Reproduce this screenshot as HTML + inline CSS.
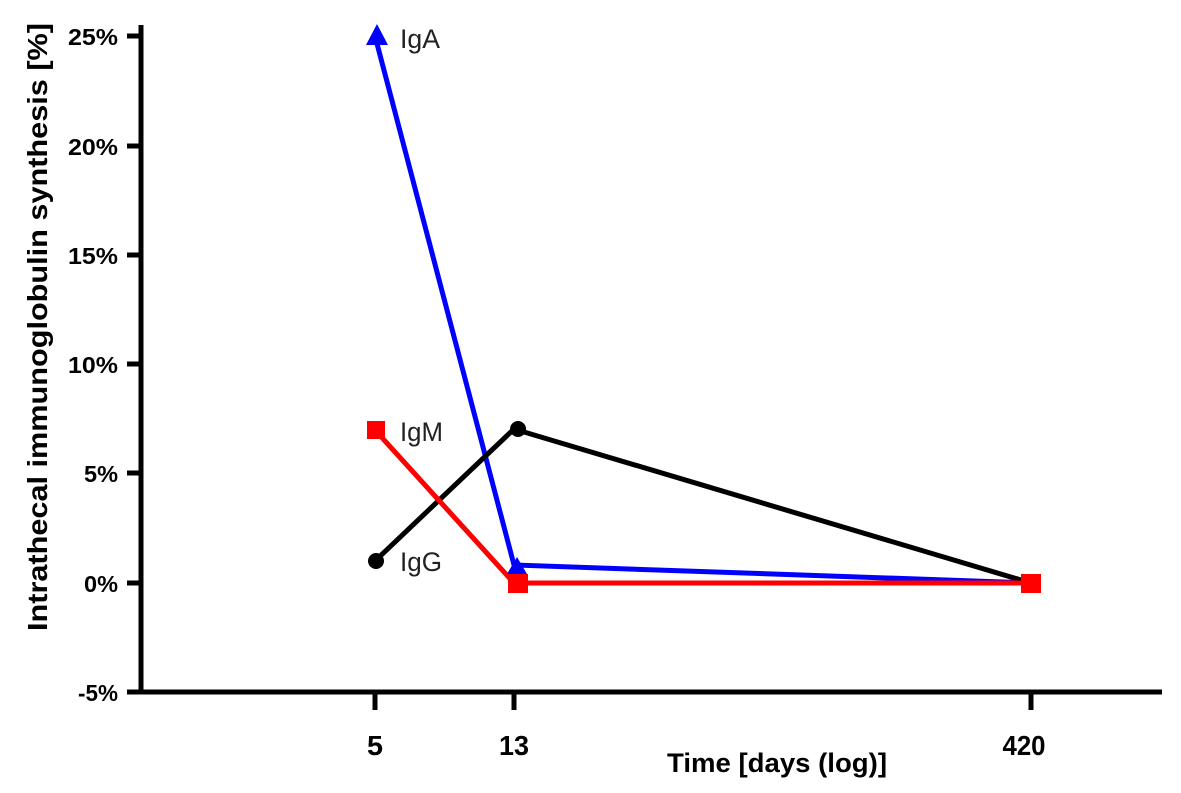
<!DOCTYPE html>
<html><head><style>body{margin:0;background:#fff}</style></head><body>
<svg width="1181" height="788" xmlns="http://www.w3.org/2000/svg" font-family="Liberation Sans, Arial, sans-serif">
<rect width="1181" height="788" fill="#fff"/>
<g stroke="#000" stroke-width="5" fill="none">
<line x1="141" y1="25" x2="141" y2="694"/>
<line x1="139" y1="692" x2="1162" y2="692"/>
<line x1="127" y1="36" x2="141" y2="36"/>
<line x1="127" y1="146" x2="141" y2="146"/>
<line x1="127" y1="255" x2="141" y2="255"/>
<line x1="127" y1="364" x2="141" y2="364"/>
<line x1="127" y1="473" x2="141" y2="473"/>
<line x1="127" y1="583" x2="141" y2="583"/>
<line x1="127" y1="692" x2="141" y2="692"/>
<line x1="375" y1="692" x2="375" y2="710"/>
<line x1="514" y1="692" x2="514" y2="710"/>
<line x1="1031" y1="692" x2="1031" y2="710"/>
</g>
<g font-size="23" font-weight="bold" text-anchor="end">
<text x="118" y="45" textLength="50" lengthAdjust="spacingAndGlyphs">25%</text>
<text x="118" y="155" textLength="50" lengthAdjust="spacingAndGlyphs">20%</text>
<text x="118" y="264" textLength="50" lengthAdjust="spacingAndGlyphs">15%</text>
<text x="118" y="373" textLength="50" lengthAdjust="spacingAndGlyphs">10%</text>
<text x="118" y="482" textLength="34" lengthAdjust="spacingAndGlyphs">5%</text>
<text x="118" y="592" textLength="34" lengthAdjust="spacingAndGlyphs">0%</text>
<text x="118" y="701" textLength="40" lengthAdjust="spacingAndGlyphs">-5%</text>
</g>
<g font-size="28" font-weight="bold" text-anchor="middle">
<text x="375" y="755" textLength="16" lengthAdjust="spacingAndGlyphs">5</text>
<text x="514" y="755" textLength="30" lengthAdjust="spacingAndGlyphs">13</text>
<text x="1024" y="755" textLength="43" lengthAdjust="spacingAndGlyphs">420</text>
<text x="777" y="772" font-size="27" textLength="220" lengthAdjust="spacingAndGlyphs">Time [days (log)]</text>
<text transform="translate(47,327) rotate(-90)" font-size="28" textLength="608" lengthAdjust="spacingAndGlyphs">Intrathecal immunoglobulin synthesis [%]</text>
</g>
<polyline points="375,36 514,565 1031,583" stroke="#0000ff" stroke-width="5" fill="none"/>
<polyline points="375,561 514,429 1031,583" stroke="#000" stroke-width="5" fill="none"/>
<polyline points="375,430 514,583 1031,583" stroke="#ff0000" stroke-width="5" fill="none"/>
<polygon points="377,24 388,45 366,45" fill="#0000ff"/>
<polygon points="517,557 527,574 507,574" fill="#0000ff"/>
<polygon points="1031,574 1041,591 1021,591" fill="#0000ff"/>
<circle cx="376" cy="561" r="8" fill="#000"/>
<circle cx="518" cy="429" r="8" fill="#000"/>
<circle cx="1031" cy="581" r="6" fill="#000"/>
<rect x="367" y="421" width="18" height="18" fill="#ff0000"/>
<rect x="508" y="574" width="20" height="19" fill="#ff0000"/>
<rect x="1021" y="574" width="20" height="19" fill="#ff0000"/>
<g font-size="27" fill="#222">
<text x="400" y="48" textLength="40" lengthAdjust="spacingAndGlyphs">IgA</text>
<text x="400" y="441" textLength="43" lengthAdjust="spacingAndGlyphs">IgM</text>
<text x="400" y="571" textLength="42" lengthAdjust="spacingAndGlyphs">IgG</text>
</g>
</svg>
</body></html>
